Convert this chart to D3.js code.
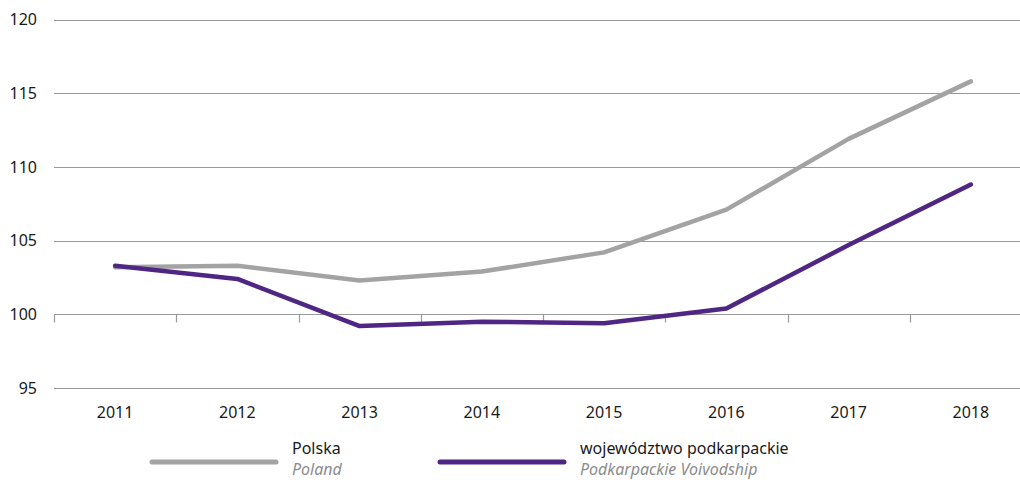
<!DOCTYPE html>
<html>
<head>
<meta charset="utf-8">
<script src="https://cdn.jsdelivr.net/npm/d3@7"></script>
<style>
  body { margin: 0; background: #fff; }
  svg { display: block; font-family: "Noto Sans", "Open Sans", sans-serif; }
</style>
</head>
<body>
<svg id="chart" width="1020" height="480"></svg>
<script>
// data
const years = ["2011", "2012", "2013", "2014", "2015", "2016", "2017", "2018"];
const polska = [103.2, 103.3, 102.3, 102.9, 104.2, 107.1, 111.9, 115.8];
const podkarpackie = [103.3, 102.4, 99.2, 99.5, 99.4, 100.4, 104.7, 108.8];
const yTicks = [95, 100, 105, 110, 115, 120];

const series = [
  { pl: "Polska", en: "Poland", values: polska, color: "#a3a3a3" },
  { pl: "województwo podkarpackie", en: "Podkarpackie Voivodship", values: podkarpackie, color: "#4f2683" }
];

const svg = d3.select("#chart");
const width = 1020, height = 480;

const x = d3.scaleBand().domain(years).range([54, 1032]);
const y = d3.scaleLinear().domain([95, 120]).range([388, 19.5]);

// gridlines
svg.append("g")
  .selectAll("line")
  .data(yTicks)
  .join("line")
  .attr("x1", 54).attr("x2", width)
  .attr("y1", d => Math.round(y(d)) + 0.5).attr("y2", d => Math.round(y(d)) + 0.5)
  .attr("stroke", "#9a9a9a").attr("stroke-width", 1.2);

// y labels
svg.append("g")
  .selectAll("text")
  .data(yTicks)
  .join("text")
  .attr("x", 37).attr("y", d => y(d))
  .attr("dy", "0.35em")
  .attr("text-anchor", "end")
  .attr("font-size", 16)
  .attr("fill", "#1a1a1a")
  .text(d => d);

// category ticks crossing at 100
const y100 = Math.round(y(100)) + 0.5;
const bounds = years.map(d => x(d)).concat([x.range()[1]]);
svg.append("g")
  .selectAll("line")
  .data(bounds)
  .join("line")
  .attr("x1", d => Math.round(d) + 0.5).attr("x2", d => Math.round(d) + 0.5)
  .attr("y1", y100).attr("y2", y100 + 8)
  .attr("stroke", "#9a9a9a").attr("stroke-width", 1.2);

// year labels
svg.append("g")
  .selectAll("text")
  .data(years)
  .join("text")
  .attr("x", d => x(d) + x.bandwidth() / 2)
  .attr("y", 418)
  .attr("text-anchor", "middle")
  .attr("font-size", 16)
  .attr("fill", "#1a1a1a")
  .text(d => d);

// lines
const line = d3.line()
  .x((d, i) => x(years[i]) + x.bandwidth() / 2)
  .y(d => y(d));

svg.append("g")
  .selectAll("path")
  .data(series)
  .join("path")
  .attr("d", d => line(d.values))
  .attr("fill", "none")
  .attr("stroke", d => d.color)
  .attr("stroke-width", 4.5)
  .attr("stroke-linejoin", "round")
  .attr("stroke-linecap", "round");

// legend
const legendX = [152, 440];
const lg = svg.append("g")
  .selectAll("g")
  .data(series)
  .join("g")
  .attr("transform", (d, i) => `translate(${legendX[i]},0)`);

lg.append("line")
  .attr("x1", 0).attr("x2", 124)
  .attr("y1", 462).attr("y2", 462)
  .attr("stroke", d => d.color)
  .attr("stroke-width", 5)
  .attr("stroke-linecap", "round");

lg.append("text")
  .attr("x", 140).attr("y", 454)
  .attr("font-size", 16)
  .attr("fill", "#1a1a1a")
  .text(d => d.pl);

lg.append("text")
  .attr("x", 140).attr("y", 475)
  .attr("font-size", 16)
  .attr("font-style", "italic")
  .attr("fill", "#8c8c8c")
  .text(d => d.en);
</script>
</body>
</html>
